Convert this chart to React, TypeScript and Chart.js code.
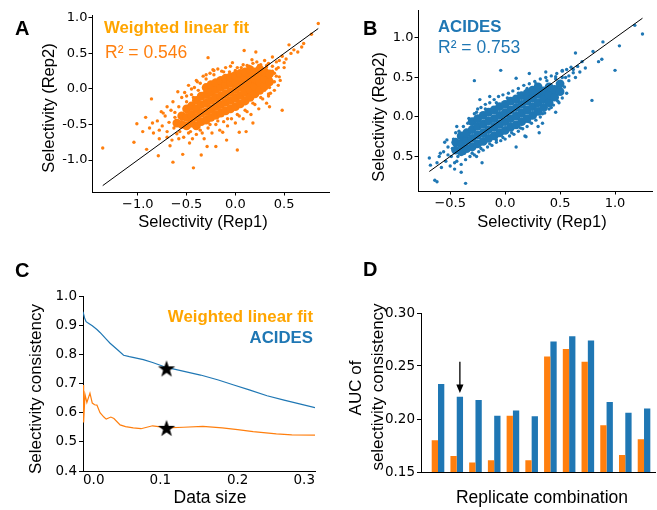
import React, { useEffect, useRef } from "react";
import { Chart, registerables } from "chart.js";

Chart.register(...registerables);

const ORANGE = "#ff7f0e";
const BLUE = "#1f77b4";
const LEGEND_ORANGE = "#ffa500";
const SANS = "'Liberation Sans', Arial, sans-serif";
const TICK_FAMILY = "'DejaVu Sans', sans-serif";

// ---------- Panel A : Weighted linear fit, Rep1 vs Rep2 ----------
const aFitLine: [number, number][] = [[-1.36, -1.36], [0.85, 0.85]];
const aCore: [number, number][] = [
  [-0.6, -0.48],
  [-0.55, -0.5], [-0.55, -0.38],
  [-0.5, -0.52], [-0.5, -0.4], [-0.5, -0.28],
  [-0.45, -0.48], [-0.45, -0.36], [-0.45, -0.24],
  [-0.4, -0.52], [-0.4, -0.4], [-0.4, -0.28], [-0.4, -0.16],
  [-0.35, -0.46], [-0.35, -0.34], [-0.35, -0.22], [-0.35, -0.1],
  [-0.3, -0.44], [-0.3, -0.32], [-0.3, -0.2], [-0.3, -0.08], [-0.3, 0.02],
  [-0.25, -0.4], [-0.25, -0.28], [-0.25, -0.16], [-0.25, -0.04], [-0.25, 0.06],
  [-0.2, -0.37], [-0.2, -0.25], [-0.2, -0.13], [-0.2, -0.01], [-0.2, 0.09],
  [-0.15, -0.34], [-0.15, -0.22], [-0.15, -0.1], [-0.15, 0.02], [-0.15, 0.12],
  [-0.1, -0.31], [-0.1, -0.19], [-0.1, -0.07], [-0.1, 0.05], [-0.1, 0.15],
  [-0.05, -0.28], [-0.05, -0.16], [-0.05, -0.04], [-0.05, 0.08], [-0.05, 0.17],
  [0.0, -0.25], [0.0, -0.13], [0.0, -0.01], [0.0, 0.1], [0.0, 0.19],
  [0.05, -0.21], [0.05, -0.09], [0.05, 0.03], [0.05, 0.14], [0.05, 0.22],
  [0.1, -0.17], [0.1, -0.05], [0.1, 0.06], [0.1, 0.16], [0.1, 0.24],
  [0.15, -0.12], [0.15, -0.01], [0.15, 0.1], [0.15, 0.2], [0.15, 0.27],
  [0.2, -0.07], [0.2, 0.04], [0.2, 0.14], [0.2, 0.24],
  [0.25, -0.02], [0.25, 0.09], [0.25, 0.19], [0.25, 0.28],
  [0.3, 0.04], [0.3, 0.14], [0.3, 0.24],
  [0.35, 0.1], [0.35, 0.21],
];
const aFringe: [number, number][] = [
  [-0.88, -0.55], [-0.84, -0.62], [-0.8, -0.45], [-0.78, -0.7], [-0.75, -0.52], [-0.72, -0.38],
  [-0.7, -0.6], [-0.68, -0.47], [-0.66, -0.3], [-0.65, -0.72], [-0.63, -0.55], [-0.62, -0.4],
  [-0.6, -0.63], [-0.58, -0.25], [-0.58, -0.7], [-0.7, -0.25], [-0.76, -0.32], [-0.92, -0.4],
  [-0.67, -0.8],
  [-0.55, -0.12], [-0.52, -0.05], [-0.5, -0.18], [-0.48, 0.05], [-0.45, -0.08], [-0.42, 0.02],
  [-0.4, 0.12], [-0.36, 0.08], [-0.33, 0.18], [-0.3, 0.14], [-0.26, 0.22], [-0.22, 0.2],
  [-0.18, 0.28], [-0.14, 0.25], [-0.1, 0.3], [-0.05, 0.32], [0.02, 0.3], [0.08, 0.34],
  [0.12, 0.33], [0.18, 0.36], [0.22, 0.38], [0.26, 0.34], [0.3, 0.4], [0.34, 0.36],
  [0.38, 0.32], [0.42, 0.28], [0.45, 0.4], [0.48, 0.46], [0.52, 0.42], [0.57, 0.5],
  [0.6, 0.55], [0.64, 0.52], [0.7, 0.64],
  [-0.48, -0.62], [-0.44, -0.7], [-0.4, -0.64], [-0.36, -0.58], [-0.32, -0.7], [-0.28, -0.55],
  [-0.24, -0.62], [-0.2, -0.5], [-0.16, -0.58], [-0.12, -0.46], [-0.08, -0.52], [-0.04, -0.42],
  [0.0, -0.48], [0.04, -0.38], [0.08, -0.42], [0.12, -0.32], [0.16, -0.36], [0.2, -0.22],
  [0.24, -0.28], [0.28, -0.14], [0.32, -0.2], [0.36, -0.06], [0.4, -0.02], [0.4, 0.1],
  [0.44, 0.05], [0.3, -0.02], [0.35, 0.02], [0.42, 0.18], [0.38, 0.25],
  [-0.62, -0.33], [-0.57, -0.6], [-0.53, -0.68], [-0.5, -0.1], [-0.46, -0.6], [-0.43, -0.12],
  [-0.38, -0.02], [-0.34, -0.62], [-0.3, 0.2], [-0.26, -0.5], [-0.22, 0.26], [-0.18, -0.45],
  [-0.12, 0.24], [-0.08, -0.42], [0.0, 0.26], [0.02, -0.36], [0.06, 0.3], [0.1, -0.3],
  [0.14, 0.32], [0.18, -0.2], [0.24, 0.33], [0.26, -0.12], [0.32, 0.33], [0.34, -0.1],
  [0.4, 0.22], [0.44, 0.3], [0.46, 0.12], [0.5, 0.3], [0.36, 0.15], [0.42, 0.38],
];
const aOutliers: [number, number][] = [
  [-1.36, -0.83], [-1.01, -0.49], [-1.04, -0.75], [-0.86, -0.14], [-0.91, -0.85], [-0.79, -0.94],
  [-0.64, -1.03], [-0.43, -1.11], [0.02, -0.86], [-0.28, 0.44], [0.09, 0.54], [0.21, 0.52],
  [0.85, 0.92], [0.78, 0.77], [0.68, 0.59], [0.55, 0.62], [0.5, 0.37], [0.45, 0.17],
  [0.48, -0.3], [0.34, -0.07], [0.35, -0.25], [-0.95, -0.6], [-0.85, -0.48], [-0.74, -0.34],
  [-0.78, -0.58], [-0.7, -0.68], [-0.59, -0.04], [-0.64, -0.18], [-0.39, 0.1], [-0.45, 0.0],
  [-0.47, -0.76], [-0.35, -0.93], [-0.2, -0.81], [-0.09, -0.72], [0.11, -0.6], [0.18, -0.48],
  [-0.06, 0.24], [-0.23, 0.27], [0.32, 0.31], [0.38, 0.45], [0.17, 0.41], [-0.03, 0.37],
  [-0.54, -0.92], [-0.29, -0.81], [0.04, -0.61], [-0.13, -0.61],
];

// ---------- Panel B : ACIDES, Rep1 vs Rep2 ----------
const bFitLine: [number, number][] = [[-0.69, -0.69], [1.25, 1.25]];
const bCore: [number, number][] = [
  [-0.45, -0.42], [-0.45, -0.32],
  [-0.4, -0.44], [-0.4, -0.34], [-0.4, -0.24],
  [-0.35, -0.4], [-0.35, -0.3], [-0.35, -0.2],
  [-0.3, -0.38], [-0.3, -0.27], [-0.3, -0.16], [-0.3, -0.06],
  [-0.25, -0.34], [-0.25, -0.23], [-0.25, -0.12], [-0.25, -0.02],
  [-0.2, -0.31], [-0.2, -0.2], [-0.2, -0.09], [-0.2, 0.02],
  [-0.15, -0.27], [-0.15, -0.16], [-0.15, -0.05], [-0.15, 0.06],
  [-0.1, -0.24], [-0.1, -0.13], [-0.1, -0.02], [-0.1, 0.09],
  [-0.05, -0.2], [-0.05, -0.09], [-0.05, 0.02], [-0.05, 0.13],
  [0.0, -0.17], [0.0, -0.06], [0.0, 0.05], [0.0, 0.16],
  [0.05, -0.13], [0.05, -0.02], [0.05, 0.09], [0.05, 0.2],
  [0.1, -0.1], [0.1, 0.01], [0.1, 0.12], [0.1, 0.23],
  [0.15, -0.06], [0.15, 0.05], [0.15, 0.16], [0.15, 0.27],
  [0.2, -0.02], [0.2, 0.09], [0.2, 0.2], [0.2, 0.3],
  [0.25, 0.02], [0.25, 0.13], [0.25, 0.24], [0.25, 0.34],
  [0.3, 0.07], [0.3, 0.18], [0.3, 0.29], [0.3, 0.38],
  [0.35, 0.12], [0.35, 0.23], [0.35, 0.33],
  [0.4, 0.18], [0.4, 0.28], [0.4, 0.38],
  [0.45, 0.25], [0.45, 0.35],
  [0.5, 0.32], [0.5, 0.42],
];
const bFringe: [number, number][] = [
  [-0.62, -0.58], [-0.6, -0.5], [-0.58, -0.64], [-0.56, -0.44], [-0.54, -0.56], [-0.52, -0.38],
  [-0.5, -0.62], [-0.49, -0.5], [-0.47, -0.28], [-0.46, -0.66], [-0.44, -0.56], [-0.42, -0.18],
  [-0.4, -0.6], [-0.38, -0.12], [-0.36, -0.54], [-0.34, -0.08], [-0.32, -0.5], [-0.55, -0.32],
  [-0.28, 0.04], [-0.25, 0.1], [-0.22, 0.12], [-0.18, 0.16], [-0.14, 0.18], [-0.1, 0.22],
  [-0.06, 0.26], [-0.02, 0.28], [0.03, 0.3], [0.07, 0.33], [0.12, 0.36], [0.17, 0.4],
  [0.22, 0.42], [0.27, 0.45], [0.32, 0.48], [0.37, 0.5], [0.42, 0.52], [0.47, 0.55],
  [0.52, 0.58], [0.56, 0.6], [0.6, 0.63], [0.62, 0.56], [0.58, 0.52], [0.66, 0.64],
  [0.68, 0.57], [0.55, 0.5],
  [-0.28, -0.48], [-0.24, -0.44], [-0.2, -0.42], [-0.16, -0.38], [-0.12, -0.36], [-0.08, -0.32],
  [-0.04, -0.3], [0.0, -0.28], [0.04, -0.24], [0.08, -0.22], [0.12, -0.18], [0.16, -0.15],
  [0.2, -0.12], [0.24, -0.08], [0.28, -0.04], [0.32, 0.0], [0.36, 0.05], [0.4, 0.1],
  [0.44, 0.15], [0.48, 0.2], [0.52, 0.24], [0.56, 0.3], [0.5, 0.35], [0.46, 0.06],
  [0.3, -0.12], [0.18, -0.24],
  [-0.52, -0.48], [-0.48, -0.4], [-0.45, -0.2], [-0.43, -0.5], [-0.37, -0.46], [-0.33, -0.02],
  [-0.3, -0.46], [-0.26, 0.06], [-0.22, -0.4], [-0.18, 0.1], [-0.14, -0.34], [-0.08, 0.18],
  [-0.02, -0.26], [0.02, 0.24], [0.06, -0.2], [0.12, 0.3], [0.14, -0.14], [0.2, 0.36],
  [0.22, -0.06], [0.28, 0.42], [0.34, 0.04], [0.38, 0.46], [0.42, 0.12], [0.46, 0.48],
  [0.52, 0.5], [0.54, 0.38], [0.58, 0.46], [0.62, 0.6], [0.64, 0.5],
];
const bOutliers: [number, number][] = [
  [-0.69, -0.52], [-0.68, -0.61], [-0.64, -0.8], [-0.62, -0.82], [-0.36, -0.84], [-0.4, -0.7],
  [-0.28, 0.46], [-0.04, 0.59], [0.31, -0.2], [0.64, 0.81], [0.79, 0.21], [0.89, 0.95],
  [1.0, 0.59], [1.04, 0.9], [1.18, 1.16], [1.25, 1.05], [0.88, 0.73], [0.85, 0.7],
  [0.8, 0.83], [0.73, 0.62], [0.7, 0.7], [0.52, 0.59], [0.46, 0.51], [0.49, 0.18],
  [0.4, 0.22], [-0.44, -0.12], [-0.53, -0.29], [-0.59, -0.46], [-0.46, -0.58], [-0.26, -0.5],
  [-0.21, -0.58], [-0.08, -0.29], [0.1, -0.38], [0.19, -0.25], [-0.23, 0.22], [-0.14, 0.26],
  [0.1, 0.49], [0.22, 0.55], [0.37, 0.57], [0.28, 0.03], [0.34, -0.08],
];

// ---------- Panel C : selectivity consistency vs data size ----------
const cAcides: [number, number][] = [
  [0, 0.946], [0.002, 0.925], [0.004, 0.912], [0.008, 0.905], [0.012, 0.898], [0.018, 0.885],
  [0.022, 0.875], [0.03, 0.852], [0.035, 0.838], [0.045, 0.815], [0.0525, 0.797], [0.06, 0.792],
  [0.078, 0.782], [0.09, 0.772], [0.108, 0.755], [0.125, 0.745], [0.152, 0.729], [0.175, 0.712],
  [0.195, 0.695], [0.215, 0.678], [0.238, 0.658], [0.26, 0.643], [0.28, 0.63], [0.3, 0.617],
];
const cWeighted: [number, number][] = [
  [0, 0.695], [0.0008, 0.566], [0.0026, 0.662], [0.005, 0.635], [0.009, 0.667], [0.012, 0.633],
  [0.015, 0.627], [0.018, 0.626], [0.022, 0.6], [0.027, 0.585], [0.03, 0.578], [0.036, 0.585],
  [0.04, 0.58], [0.048, 0.558], [0.055, 0.552], [0.065, 0.548], [0.075, 0.545], [0.09, 0.555],
  [0.1, 0.551], [0.108, 0.548], [0.13, 0.55], [0.155, 0.553], [0.18, 0.548], [0.2, 0.542],
  [0.22, 0.535], [0.25, 0.527], [0.27, 0.524], [0.3, 0.523],
];
const cStars: [number, number][] = [[0.108, 0.752], [0.108, 0.548]];

// ---------- Panel D : AUC of selectivity consistency ----------
const dCombinations = ["1", "2", "3", "4", "5", "6", "7", "8", "9", "10", "11", "12"];
const dWeighted = [0.18, 0.165, 0.159, 0.161, 0.203, 0.161, 0.259, 0.266, 0.254, 0.194, 0.166, 0.181];
const dAcides = [0.233, 0.221, 0.218, 0.203, 0.208, 0.2025, 0.273, 0.278, 0.274, 0.216, 0.206, 0.21];
const dArrowCombination = 1;
const dArrowFrom = 0.254;
const dArrowTo = 0.2245;

// ---------- helpers ----------
const pts = (arr: [number, number][]) => arr.map(([x, y]) => ({ x, y }));
const minusFmt = (v: number) => (v < 0 ? "\u2212" : "") + Math.abs(v).toFixed(1);
const hyphenFmt = (v: number) => (v < 0 ? "-" : "") + Math.abs(v).toFixed(1);

type TextItem = {
  text: string; x: number; y: number; size: number; bold?: boolean; color?: string;
  align?: CanvasTextAlign; baseline?: CanvasTextBaseline; rotate?: boolean;
};

const textPlugin = (items: TextItem[]) => ({
  id: "texts",
  afterDraw(chart: any) {
    const ctx = chart.ctx as CanvasRenderingContext2D;
    for (const t of items) {
      ctx.save();
      ctx.font = `${t.bold ? "bold " : ""}${t.size}px ${SANS}`;
      ctx.fillStyle = t.color || "#000";
      ctx.textAlign = t.align || "left";
      ctx.textBaseline = t.baseline || "alphabetic";
      ctx.translate(t.x, t.y);
      if (t.rotate) ctx.rotate(-Math.PI / 2);
      ctx.fillText(t.text, 0, 0);
      ctx.restore();
    }
  },
});

function axis(opts: any) {
  const { min, max, step, fmt, fit, tickLen = 3.5, pad = 1, size = 13, horizontal, align, showTicks = true, showLabels = true } = opts;
  return {
    type: "linear",
    min,
    max,
    ticks: {
      display: showLabels,
      stepSize: step,
      includeBounds: false,
      autoSkip: false,
      maxRotation: 0,
      padding: pad,
      color: "#000",
      align: align || "center",
      font: { family: TICK_FAMILY, size },
      callback: fmt,
    },
    grid: {
      display: showTicks,
      drawOnChartArea: false,
      drawTicks: showTicks,
      tickLength: tickLen,
      color: "#000",
      lineWidth: 1,
    },
    border: { display: true, color: "#000", width: 1 },
    afterFit: (s: any) => {
      if (horizontal) s.height = fit;
      else s.width = fit;
    },
  };
}

const baseOptions = (padding: any) => ({
  animation: false,
  responsive: false,
  events: [] as any[],
  layout: { padding },
  plugins: { legend: { display: false }, tooltip: { enabled: false } },
});

function makeStar(R: number) {
  const size = Math.ceil(R * 2 + 2);
  const c = document.createElement("canvas");
  c.width = size;
  c.height = size;
  const ctx = c.getContext("2d")!;
  const cx = size / 2, cy = size / 2 + R * 0.1, r = R * 0.4;
  ctx.beginPath();
  for (let i = 0; i < 10; i++) {
    const ang = -Math.PI / 2 + (i * Math.PI) / 5;
    const rad = i % 2 === 0 ? R : r;
    ctx.lineTo(cx + rad * Math.cos(ang), cy + rad * Math.sin(ang));
  }
  ctx.closePath();
  ctx.fillStyle = "#000";
  ctx.fill();
  return c;
}

// ---------- chart builders ----------
function buildA() {
  return {
    type: "scatter",
    data: {
      datasets: [
        { data: pts(aFitLine), showLine: true, borderColor: "#000", borderWidth: 1, pointRadius: 0, order: 0 },
        { data: pts(aCore), backgroundColor: ORANGE, borderWidth: 0, pointRadius: 4.4, order: 1 },
        { data: pts(aFringe), backgroundColor: ORANGE, borderWidth: 0, pointRadius: 1.7, order: 1 },
        { data: pts(aOutliers), backgroundColor: ORANGE, borderWidth: 0, pointRadius: 1.7, order: 1 },
      ],
    },
    options: {
      ...baseOptions({ left: 0, top: 15, right: 6, bottom: 0 }),
      scales: {
        x: axis({ min: -1.47, max: 0.96, step: 0.5, fmt: minusFmt, fit: 58, horizontal: true }),
        y: axis({ min: -1.45, max: 1.04, step: 0.5, fmt: hyphenFmt, fit: 92 }),
      },
    },
    plugins: [
      textPlugin([
        { text: "A", x: 15, y: 35, size: 20, bold: true },
        { text: "Weighted linear fit", x: 104, y: 33, size: 16.8, bold: true, color: LEGEND_ORANGE },
        { text: "R\u00b2 = 0.546", x: 105, y: 58, size: 17.5, color: ORANGE },
        { text: "Selectivity (Rep1)", x: 203, y: 222, size: 16.5, align: "center", baseline: "middle" },
        { text: "Selectivity (Rep2)", x: 49, y: 108, size: 16.5, align: "center", baseline: "middle", rotate: true },
      ]),
    ],
  };
}

function buildB() {
  return {
    type: "scatter",
    data: {
      datasets: [
        { data: pts(bFitLine), showLine: true, borderColor: "#000", borderWidth: 1, pointRadius: 0, order: 0 },
        { data: pts(bCore), backgroundColor: BLUE, borderWidth: 0, pointRadius: 4.4, order: 1 },
        { data: pts(bFringe), backgroundColor: BLUE, borderWidth: 0, pointRadius: 1.7, order: 1 },
        { data: pts(bOutliers), backgroundColor: BLUE, borderWidth: 0, pointRadius: 1.7, order: 1 },
      ],
    },
    options: {
      ...baseOptions({ left: 0, top: 10, right: 2, bottom: 0 }),
      scales: {
        x: axis({ min: -0.793, max: 1.342, step: 0.5, fmt: minusFmt, fit: 59, horizontal: true }),
        y: axis({ min: -0.937, max: 1.354, step: 0.5, fmt: (v: number) => Math.abs(v).toFixed(1), fit: 83 }),
      },
    },
    plugins: [
      textPlugin([
        { text: "B", x: 28, y: 35, size: 20, bold: true },
        { text: "ACIDES", x: 103, y: 32, size: 16.8, bold: true, color: BLUE },
        { text: "R\u00b2 = 0.753", x: 103, y: 53, size: 17.5, color: BLUE },
        { text: "Selectivity (Rep1)", x: 207, y: 222, size: 16.5, align: "center", baseline: "middle" },
        { text: "Selectivity (Rep2)", x: 44, y: 117, size: 16.5, align: "center", baseline: "middle", rotate: true },
      ]),
    ],
  };
}

function buildC() {
  const star = makeStar(9);
  return {
    type: "line",
    data: {
      datasets: [
        { type: "scatter", data: pts(cStars), pointStyle: star, pointRadius: 9, order: 0 },
        { data: pts(cAcides), borderColor: BLUE, borderWidth: 1.2, pointRadius: 0, tension: 0, order: 1 },
        { data: pts(cWeighted), borderColor: ORANGE, borderWidth: 1.2, pointRadius: 0, tension: 0, order: 1 },
      ],
    },
    options: {
      ...baseOptions({ left: 0, top: 46, right: 20, bottom: 0 }),
      scales: {
        x: axis({ min: 0, max: 0.3, step: 0.1, fmt: (v: number) => v.toFixed(1), fit: 39, horizontal: true, showTicks: false, pad: 1, size: 13.5, align: "inner" }),
        y: axis({ min: 0.4, max: 1.0, step: 0.1, fmt: (v: number) => v.toFixed(1), fit: 83, tickLen: 4, pad: 2, size: 13.5 }),
      },
    },
    plugins: [
      textPlugin([
        { text: "C", x: 15, y: 27, size: 20, bold: true },
        { text: "Weighted linear fit", x: 313, y: 72, size: 16.8, bold: true, color: LEGEND_ORANGE, align: "right" },
        { text: "ACIDES", x: 313, y: 93, size: 16.8, bold: true, color: BLUE, align: "right" },
        { text: "Data size", x: 210, y: 248, size: 17.5, align: "center", baseline: "middle" },
        { text: "Selectivity consistency", x: 36, y: 139, size: 17, align: "center", baseline: "middle", rotate: true },
      ]),
    ],
  };
}

function buildD() {
  const arrowPlugin = {
    id: "arrow",
    afterDatasetsDraw(chart: any) {
      const ctx = chart.ctx as CanvasRenderingContext2D;
      const bar = chart.getDatasetMeta(1).data[dArrowCombination];
      const x = bar.x;
      const y0 = chart.scales.y.getPixelForValue(dArrowFrom);
      const y1 = chart.scales.y.getPixelForValue(dArrowTo);
      ctx.save();
      ctx.strokeStyle = "#000";
      ctx.fillStyle = "#000";
      ctx.lineWidth = 1.3;
      ctx.beginPath();
      ctx.moveTo(x, y0);
      ctx.lineTo(x, y1 - 7);
      ctx.stroke();
      ctx.beginPath();
      ctx.moveTo(x - 3.6, y1 - 8.5);
      ctx.lineTo(x + 3.6, y1 - 8.5);
      ctx.lineTo(x, y1);
      ctx.closePath();
      ctx.fill();
      ctx.restore();
    },
  };
  return {
    type: "bar",
    data: {
      labels: dCombinations,
      datasets: [
        { data: dWeighted.map((v, i) => ({ x: i, y: v })), backgroundColor: ORANGE, categoryPercentage: 0.673, barPercentage: 1 },
        { data: dAcides.map((v, i) => ({ x: i, y: v })), backgroundColor: BLUE, categoryPercentage: 0.673, barPercentage: 1 },
      ],
    },
    options: {
      ...baseOptions({ left: 0, top: 63, right: 2, bottom: 0 }),
      scales: {
        x: { ...axis({ min: -0.908, max: 11.586, step: 1, fit: 38, horizontal: true, showTicks: false, showLabels: false }), offset: false },
        y: axis({ min: 0.15, max: 0.3, step: 0.05, fmt: (v: number) => v.toFixed(2), fit: 86, tickLen: 4, pad: 2, size: 13.5 }),
      },
    },
    plugins: [
      arrowPlugin,
      textPlugin([
        { text: "D", x: 28, y: 26, size: 20, bold: true },
        { text: "Replicate combination", x: 207, y: 248, size: 17.5, align: "center", baseline: "middle" },
        { text: "AUC of", x: 21, y: 138, size: 17, align: "center", baseline: "middle", rotate: true },
        { text: "selectivity consistency", x: 43, y: 137, size: 17, align: "center", baseline: "middle", rotate: true },
      ]),
    ],
  };
}

function Panel({ build, left, top, width, height }: { build: () => any; left: number; top: number; width: number; height: number }) {
  const ref = useRef<HTMLCanvasElement>(null);
  useEffect(() => {
    const chart = new Chart(ref.current as HTMLCanvasElement, build());
    return () => chart.destroy();
  }, []);
  return (
    <canvas
      ref={ref}
      width={width}
      height={height}
      style={{ position: "absolute", left, top, width, height, display: "block" }}
    />
  );
}

export default function App() {
  return (
    <div style={{ position: "absolute", left: 0, top: 0, width: 657, height: 510, background: "#fff", overflow: "hidden" }}>
      <Panel build={buildA} left={0} top={0} width={335} height={250} />
      <Panel build={buildB} left={335} top={0} width={322} height={250} />
      <Panel build={buildC} left={0} top={250} width={335} height={260} />
      <Panel build={buildD} left={335} top={250} width={322} height={260} />
    </div>
  );
}
